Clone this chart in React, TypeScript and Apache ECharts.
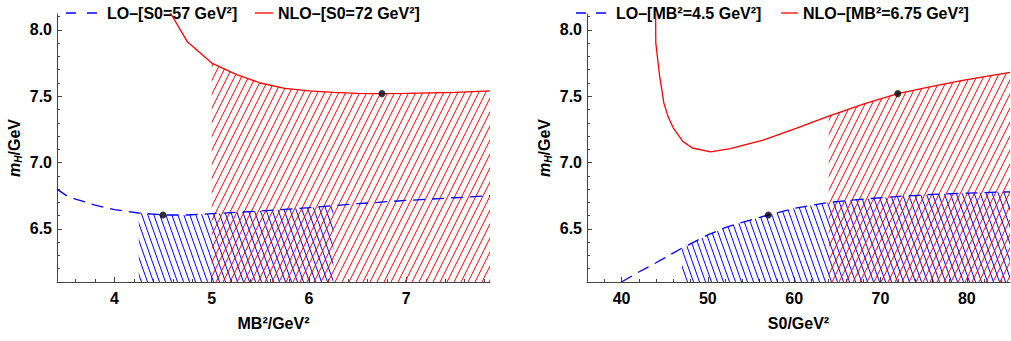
import React, { useEffect, useRef } from 'react';
import * as echarts from 'echarts';

// ---- tick values ----
const yMajor = [6.5, 7.0, 7.5, 8.0];
const yMinor = [6.2, 6.3, 6.4, 6.6, 6.7, 6.8, 6.9, 7.1, 7.2, 7.3, 7.4, 7.6, 7.7, 7.8, 7.9, 8.1];
const xLeftMajor = [4, 5, 6, 7];
const xLeftMinor = [3.6, 3.8, 4.2, 4.4, 4.6, 4.8, 5.2, 5.4, 5.6, 5.8, 6.2, 6.4, 6.6, 6.8, 7.2, 7.4, 7.6, 7.8];
const xRightMajor = [40, 50, 60, 70, 80];
const xRightMinor = [38, 42, 44, 46, 48, 52, 54, 56, 58, 62, 64, 66, 68, 72, 74, 76, 78, 82, 84];

// ---- left panel: m_H vs MB^2 ----
const loLeftMB = [3.41, 3.5, 3.6, 3.8, 4.0, 4.25, 4.5, 4.75, 5.0, 5.5, 6.0, 6.25, 6.5, 7.0, 7.5, 7.86];
const loLeftMH = [6.80, 6.755, 6.725, 6.68, 6.645, 6.62, 6.605, 6.605, 6.615, 6.635, 6.66, 6.675, 6.69, 6.715, 6.735, 6.75];
const nloLeftMB = [4.55, 4.75, 5.0, 5.25, 5.5, 5.75, 6.0, 6.25, 6.5, 6.75, 7.0, 7.5, 7.86];
const nloLeftMH = [8.16, 7.91, 7.75, 7.665, 7.60, 7.56, 7.54, 7.53, 7.522, 7.52, 7.522, 7.53, 7.54];
const loLeftBand = [4.25, 6.25];
const nloLeftBand = [5.0, 7.86];
const dotsLeft = [[4.5, 6.605], [6.75, 7.52]];

// ---- right panel: m_H vs S0 ----
const nloRightS0 = [43.94, 43.97, 44.4, 44.9, 45.4, 46.0, 47.1, 48.2, 50.3, 52.6, 56.4, 60.3, 64.0, 68.0, 72.0, 75.7, 79.5, 85.0];
const nloRightMH = [8.2, 7.90, 7.66, 7.45, 7.345, 7.26, 7.16, 7.11, 7.08, 7.105, 7.17, 7.26, 7.35, 7.44, 7.52, 7.57, 7.62, 7.68];
const loRightS0 = [40, 42, 44, 47, 50, 52, 54, 57, 60, 64, 68, 72, 76, 80, 85];
const loRightMH = [6.10, 6.175, 6.245, 6.355, 6.455, 6.51, 6.55, 6.605, 6.655, 6.70, 6.725, 6.745, 6.76, 6.77, 6.78];
const loRightBand = [47, 85];
const nloRightBand = [64, 85];
const dotsRight = [[57, 6.605], [72, 7.52]];

const FONT = '"Liberation Sans", Arial, sans-serif';
const AXIS = '#444';
const BLUE = '#0000ff';
const RED = '#ff0000';

function hatch(color: string, w: number, h: number, dir: string) {
  const c = document.createElement('canvas');
  c.width = w;
  c.height = h;
  const ctx = c.getContext('2d')!;
  ctx.strokeStyle = color;
  ctx.lineWidth = 1;
  for (let k = -1; k <= 1; k++) {
    ctx.beginPath();
    if (dir === '/') {
      ctx.moveTo(k * w, h);
      ctx.lineTo(k * w + w, 0);
    } else {
      ctx.moveTo(k * w, 0);
      ctx.lineTo(k * w + w, h);
    }
    ctx.stroke();
  }
  return { image: c, repeat: 'repeat', imageWidth: w, imageHeight: h } as any;
}

const pairs = (xs: number[], ys: number[]) => xs.map((x, i) => [x, ys[i]]);
const band = (xs: number[], ys: number[], r: number[]) =>
  pairs(xs, ys).filter((p) => p[0] >= r[0] - 1e-9 && p[0] <= r[1] + 1e-9);

const labelStyle = { color: '#000', fontSize: 16, fontWeight: 'bold', fontFamily: FONT };

function mainX(grid: number, min: number, max: number, major: number[], name: string) {
  return {
    type: 'value', gridIndex: grid, min, max, position: 'bottom',
    axisLine: { show: true, onZero: false, lineStyle: { color: AXIS, width: 1 } },
    axisTick: { show: true, inside: true, length: 5, customValues: major, lineStyle: { color: AXIS } },
    axisLabel: { ...labelStyle, customValues: major, margin: 8 },
    splitLine: { show: false },
    name, nameLocation: 'middle', nameGap: 33,
    nameTextStyle: { ...labelStyle },
  };
}
function minorX(grid: number, min: number, max: number, minor: number[]) {
  return {
    type: 'value', gridIndex: grid, min, max, position: 'bottom',
    axisLine: { show: false, onZero: false },
    axisTick: { show: true, inside: true, length: 3, customValues: minor, lineStyle: { color: AXIS } },
    axisLabel: { show: false },
    splitLine: { show: false },
  };
}
function mainY(grid: number) {
  return {
    type: 'value', gridIndex: grid, min: 6.1, max: 8.12, position: 'left',
    axisLine: { show: true, onZero: false, lineStyle: { color: AXIS, width: 1 } },
    axisTick: { show: true, inside: true, length: 5, customValues: yMajor, lineStyle: { color: AXIS } },
    axisLabel: { ...labelStyle, customValues: yMajor, margin: 5, formatter: (v: number) => v.toFixed(1) },
    splitLine: { show: false },
    name: '{m|m}{h|H}{g|/GeV}', nameLocation: 'middle', nameGap: 34, nameRotate: 90,
    nameTextStyle: {
      rich: {
        m: { fontSize: 16, fontStyle: 'italic', fontWeight: 'bold', fontFamily: FONT, color: '#000', lineHeight: 18 },
        h: { fontSize: 10, fontStyle: 'italic', fontWeight: 'bold', fontFamily: FONT, color: '#000', lineHeight: 10, padding: [8, 0, 0, 0] },
        g: { fontSize: 16, fontWeight: 'bold', fontFamily: FONT, color: '#000', lineHeight: 18 },
      },
    },
  };
}
function minorY(grid: number) {
  return {
    type: 'value', gridIndex: grid, min: 6.1, max: 8.12, position: 'left',
    axisLine: { show: false, onZero: false },
    axisTick: { show: true, inside: true, length: 3, customValues: yMinor, lineStyle: { color: AXIS } },
    axisLabel: { show: false },
    splitLine: { show: false },
  };
}

function areaSeries(ax: number, data: number[][], pattern: any) {
  return {
    type: 'line', xAxisIndex: ax, yAxisIndex: ax, data, symbol: 'none', silent: true, z: 1,
    lineStyle: { width: 0 },
    areaStyle: { color: pattern, opacity: 1, origin: 'start' },
  };
}
function curveSeries(ax: number, data: number[][], color: string, dashed: boolean) {
  return {
    type: 'line', xAxisIndex: ax, yAxisIndex: ax, data, symbol: 'none', silent: true, z: 3,
    lineStyle: { color, width: 1.3, type: dashed ? [12, 7] : 'solid' },
  };
}
function dotSeries(ax: number, data: number[][]) {
  return {
    type: 'scatter', xAxisIndex: ax, yAxisIndex: ax, data, symbolSize: 7, z: 4, silent: true,
    itemStyle: { color: '#000' },
  };
}

function legendText(x: number, text: string) {
  return {
    type: 'text', x, y: 13, z: 0,
    style: { text, fontSize: 16, fontWeight: 'bold', fontFamily: FONT, fill: '#000', verticalAlign: 'middle' },
  };
}

export default function App() {
  const ref = useRef<HTMLDivElement>(null);
  useEffect(() => {
    document.body.style.margin = '0';
    const chart = echarts.init(ref.current!, null, { renderer: 'svg' });
    const blueHatch = hatch(BLUE, 6, 17, '\\');
    const redHatch = hatch(RED, 7, 14, '/');
    const option: any = {
      animation: false,
      backgroundColor: '#fff',
      grid: [
        { left: 57, top: 14, width: 433, height: 268 },
        { left: 587, top: 14, width: 423, height: 268 },
      ],
      xAxis: [
        mainX(0, 3.41, 7.86, xLeftMajor, 'MB²/GeV²'),
        minorX(0, 3.41, 7.86, xLeftMinor),
        mainX(1, 36, 85, xRightMajor, 'S0/GeV²'),
        minorX(1, 36, 85, xRightMinor),
      ],
      yAxis: [mainY(0), minorY(0), mainY(1), minorY(1)],
      series: [
        areaSeries(0, band(loLeftMB, loLeftMH, loLeftBand), blueHatch),
        areaSeries(0, band(nloLeftMB, nloLeftMH, nloLeftBand), redHatch),
        curveSeries(0, pairs(loLeftMB, loLeftMH), BLUE, true),
        curveSeries(0, pairs(nloLeftMB, nloLeftMH), RED, false),
        dotSeries(0, dotsLeft),
        areaSeries(2, band(loRightS0, loRightMH, loRightBand), blueHatch),
        areaSeries(2, band(nloRightS0, nloRightMH, nloRightBand), redHatch),
        curveSeries(2, pairs(loRightS0, loRightMH), BLUE, true),
        curveSeries(2, pairs(nloRightS0, nloRightMH), RED, false),
        dotSeries(2, dotsRight),
      ],
      graphic: [
        { type: 'line', shape: { x1: 66, y1: 13, x2: 97, y2: 13 }, style: { stroke: BLUE, lineWidth: 1.3, lineDash: [10, 11] } },
        legendText(107, 'LO–[S0=57 GeV²]'),
        { type: 'line', shape: { x1: 255, y1: 13, x2: 273, y2: 13 }, style: { stroke: RED, lineWidth: 1.3 } },
        legendText(278, 'NLO–[S0=72 GeV²]'),
        { type: 'line', shape: { x1: 576, y1: 13, x2: 606, y2: 13 }, style: { stroke: BLUE, lineWidth: 1.3, lineDash: [10, 10] } },
        legendText(616, 'LO–[MB²=4.5 GeV²]'),
        { type: 'line', shape: { x1: 781, y1: 13, x2: 798, y2: 13 }, style: { stroke: RED, lineWidth: 1.3 } },
        legendText(803, 'NLO–[MB²=6.75 GeV²]'),
      ],
    };
    chart.setOption(option);
    return () => chart.dispose();
  }, []);
  return <div ref={ref} style={{ width: 1011, height: 341 }} />;
}
